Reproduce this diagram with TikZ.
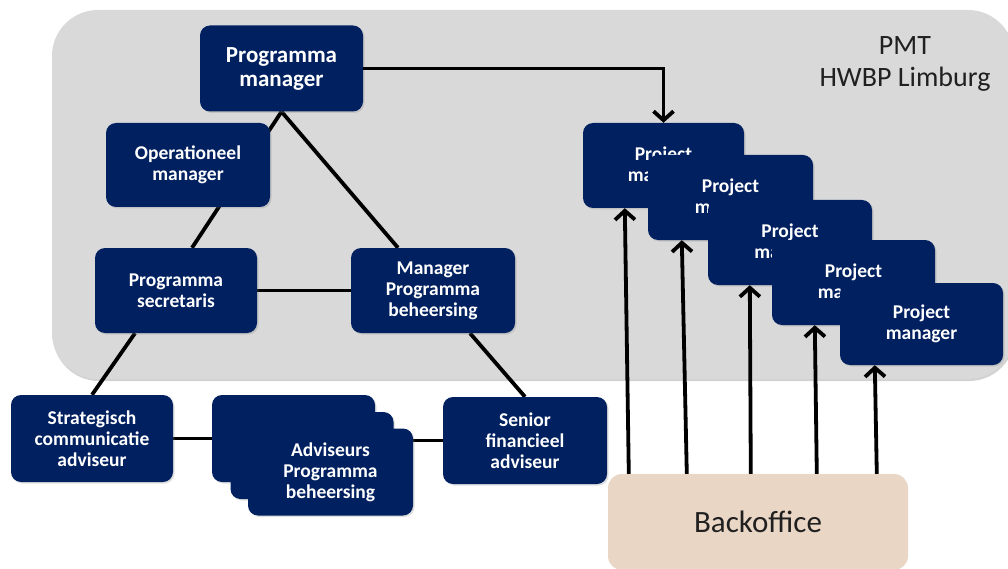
\documentclass[tikz,border=0pt]{standalone}
\usepackage{fontspec}
\setmainfont{Carlito}
\usetikzlibrary{arrows.meta,calc,shadows}
\definecolor{navy}{RGB}{0,32,96}
\definecolor{panelgray}{RGB}{217,217,217}
\definecolor{beige}{RGB}{233,214,197}
\definecolor{txtdark}{RGB}{32,32,32}
\pgfdeclarelayer{back}
\pgfdeclarelayer{lines}
\pgfsetlayers{back,lines,main}
\begin{document}
\begin{tikzpicture}[x=1pt,y=-1pt,
  box/.style={fill=navy, rounded corners=10pt, inner sep=0pt, text=white, align=center,
    minimum width=163pt, minimum height=86pt,
    font=\fontsize{19.5}{21}\selectfont\bfseries,
    drop shadow={shadow xshift=1.5pt,shadow yshift=-1.5pt,opacity=0.25}},
  bigbox/.style={box, font=\fontsize{23}{24}\selectfont\bfseries},
  conn/.style={line width=3.8pt, black},
  arr/.style={conn, -{Straight Barb[length=9pt,width=20pt]}},
  panel/.style={fill=panelgray, rounded corners=46pt,
    drop shadow={shadow xshift=1pt,shadow yshift=-2pt,opacity=0.35}},
  boxoff/.style={fill=beige, rounded corners=14pt, inner sep=0pt, text=txtdark,
    minimum width=300pt, minimum height=96pt, font=\fontsize{31}{34}\selectfont}
]
\clip (0,0) rectangle (1008,569);
\useasboundingbox (0,0) rectangle (1008,569);

\begin{pgfonlayer}{back}
  \fill[white] (0,0) rectangle (1008,569);
  \path[panel] (52,10) rectangle (1014,379);
\end{pgfonlayer}

\node[align=center, text=txtdark, font=\fontsize{28}{32}\selectfont] (title) at (905,64) {PMT\\HWBP Limburg};

% left organisation
\node[bigbox] (pm) at (281.5,68.5) {Programma\\manager};
\node[box, minimum width=164pt, minimum height=84pt] (om) at (188,165) {Operationeel\\manager};
\node[box, minimum width=162pt, minimum height=85pt] (ps) at (176,290.5) {Programma\\secretaris};
\node[box, minimum width=164pt, minimum height=85pt] (mpb) at (433,290.5) {Manager\\Programma\\beheersing};
\node[box, minimum width=162pt, minimum height=87pt] (sc) at (92,438.5) {Strategisch\\communicatie\\adviseur};
\node[box, minimum height=87pt] (adv1) at (293.5,438.5) {};
\node[box, minimum height=87pt] (adv2) at (312,455.5) {};
\node[box, minimum width=165pt, minimum height=87pt] (adv3) at (330.5,472) {Adviseurs\\Programma\\beheersing};
\node[box, minimum width=164pt, minimum height=87pt] (sf) at (525,440.5) {Senior\\financieel\\adviseur};

% project managers
\node[box, minimum width=161pt, minimum height=85pt] (p1) at (663.5,165.5) {Project\\manager};
\node[box, minimum width=165pt, minimum height=85pt] (p2) at (730.5,197.5) {Project\\manager};
\node[box, minimum width=164pt, minimum height=85pt] (p3) at (790,242.5) {Project\\manager};
\node[box, minimum width=163pt, minimum height=85pt] (p4) at (853.5,282.5) {Project\\manager};
\node[box, minimum width=163pt, minimum height=82pt] (p5) at (921.5,324) {Project\\manager};

\node[boxoff] (bo) at (758,522) {Backoffice};

% connectors behind boxes
\begin{pgfonlayer}{lines}
  \draw[conn] (pm.south) -- ($(ps.north)+(16,0)$);
  \draw[conn] (pm.south) -- ($(mpb.north)+(-35,0)$);
  \draw[conn] (ps.east) -- (mpb.west);
  \draw[conn] ($(ps.south)+(-41,0)$) -- (sc.north);
  \draw[conn] ($(mpb.south)+(37,0)$) -- (sf.north);
  \draw[conn] (sc.east) -- (sc.east -| adv1.west);
  \draw[conn] (sf.west -| adv3.east) -- (sf.west);
\end{pgfonlayer}

% arrows
\draw[arr] (pm.east) -| (p1.north);
\draw[arr] ($(bo.north west)+(21,0)$) -- ($(p1.south west)+(42,0)$);
\draw[arr] ($(bo.north west)+(79,0)$) -- ($(p2.south west)+(34,0)$);
\draw[arr] ($(bo.north west)+(143,0)$) -- ($(p3.south west)+(42,0)$);
\draw[arr] ($(bo.north west)+(209,0)$) -- ($(p4.south west)+(43,0)$);
\draw[arr] ($(bo.north west)+(269,0)$) -- ($(p5.south west)+(35,0)$);
\end{tikzpicture}
\end{document}
